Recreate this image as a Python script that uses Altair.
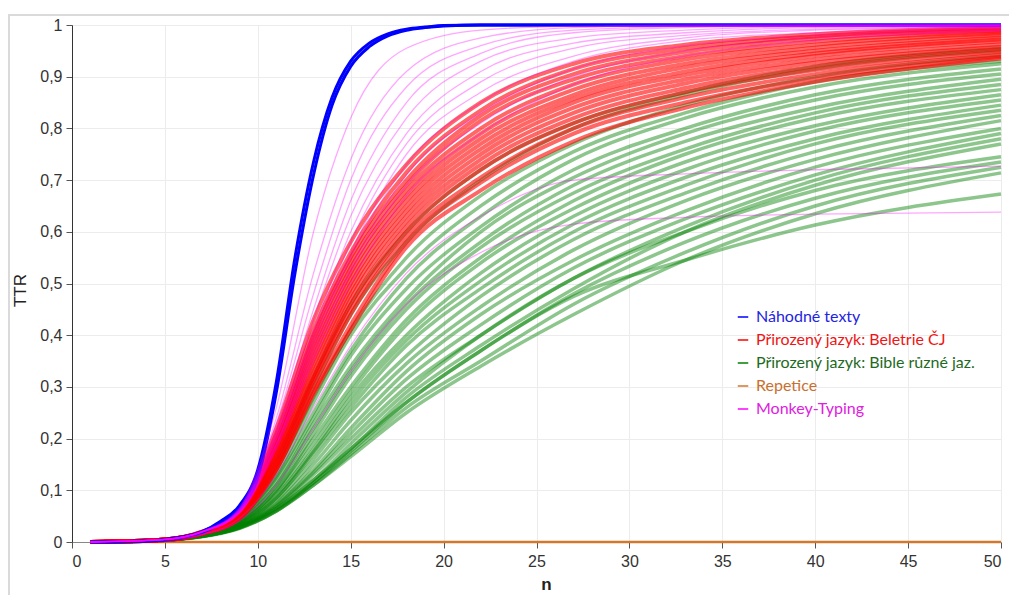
import altair as alt
import pandas as pd

# ---------------- data ----------------
N_GRID = [1, 5, 7, 9, 11, 13, 15, 18, 22, 27, 33, 40, 50]

BLUE_N = [1, 3, 5, 7, 8, 9, 10, 11, 12, 13, 14, 15, 16, 17, 18, 19, 20, 22, 25, 30, 50]
BLUE_CURVES = [
    [0, .001, .004, .018, .036, .062, .125, .29, .52, .71, .845, .92, .958, .979, .99, .995, .998, 1, 1, 1, 1],
    [0, .001, .005, .020, .040, .070, .140, .31, .55, .735, .86, .93, .965, .983, .992, .996, .999, 1, 1, 1, 1],
]

RED_CURVES = [
    [0, .005, .020, .060, .220, .430, .580, .730, .850, .925, .962, .982, .995],
    [0, .005, .020, .058, .210, .410, .560, .715, .835, .915, .955, .978, .993],
    [0, .005, .019, .057, .200, .400, .550, .700, .825, .905, .948, .974, .990],
    [0, .005, .019, .056, .195, .390, .540, .690, .815, .895, .940, .968, .987],
    [0, .005, .019, .055, .190, .380, .530, .680, .800, .885, .933, .962, .984],
    [0, .005, .018, .054, .185, .370, .520, .670, .790, .875, .925, .956, .980],
    [0, .005, .018, .053, .180, .360, .510, .660, .780, .865, .918, .950, .976],
    [0, .005, .018, .052, .175, .350, .500, .650, .770, .857, .910, .945, .972],
    [0, .005, .018, .051, .170, .340, .490, .640, .760, .850, .903, .940, .968],
    [0, .005, .017, .050, .165, .330, .480, .630, .750, .840, .895, .933, .963],
    [0, .004, .017, .049, .160, .320, .470, .620, .740, .830, .887, .927, .958],
    [0, .004, .017, .048, .155, .315, .460, .610, .730, .820, .878, .920, .953],
    [0, .004, .017, .047, .150, .310, .450, .600, .720, .810, .870, .913, .948],
    [0, .004, .016, .046, .145, .300, .440, .590, .705, .800, .860, .905, .943],
    [0, .004, .016, .045, .140, .290, .420, .580, .695, .790, .850, .897, .938],
    [0, .004, .016, .045, .140, .285, .410, .570, .680, .775, .840, .890, .935],
]

GREEN_CURVES = [
    [0, .005, .018, .055, .160, .320, .460, .600, .720, .810, .870, .920, .955],
    [0, .005, .017, .050, .150, .300, .440, .580, .700, .800, .865, .915, .950],
    [0, .005, .017, .048, .140, .280, .410, .550, .670, .770, .845, .900, .940],
    [0, .005, .016, .046, .130, .270, .400, .530, .650, .755, .830, .890, .930],
    [0, .005, .016, .044, .125, .250, .370, .510, .630, .740, .820, .880, .925],
    [0, .005, .015, .042, .120, .240, .360, .490, .610, .720, .800, .865, .915],
    [0, .005, .015, .040, .110, .230, .340, .470, .600, .705, .790, .855, .905],
    [0, .004, .015, .040, .110, .220, .330, .460, .580, .690, .775, .840, .895],
    [0, .004, .014, .038, .100, .210, .320, .450, .570, .675, .760, .830, .885],
    [0, .004, .014, .037, .100, .200, .300, .430, .550, .660, .750, .820, .875],
    [0, .004, .014, .036, .095, .190, .290, .420, .540, .645, .735, .805, .865],
    [0, .004, .013, .035, .090, .180, .280, .400, .520, .630, .720, .795, .855],
    [0, .004, .013, .034, .085, .175, .270, .390, .505, .615, .705, .780, .845],
    [0, .004, .013, .033, .085, .170, .260, .380, .490, .600, .690, .770, .835],
    [0, .004, .012, .032, .080, .160, .250, .360, .475, .585, .675, .755, .825],
    [0, .004, .012, .031, .075, .150, .235, .345, .455, .565, .660, .740, .815],
    [0, .004, .012, .030, .072, .140, .220, .330, .440, .545, .640, .725, .800],
    [0, .004, .012, .030, .070, .135, .210, .315, .420, .530, .625, .710, .790],
    [0, .004, .011, .029, .068, .130, .200, .300, .400, .510, .610, .700, .780],
    [0, .004, .011, .028, .065, .120, .180, .280, .380, .490, .600, .690, .770],
    [0, .004, .011, .028, .065, .120, .190, .290, .400, .510, .600, .680, .745],
    [0, .004, .011, .028, .062, .115, .175, .270, .370, .480, .580, .665, .735],
    [0, .004, .011, .027, .060, .110, .170, .260, .350, .460, .560, .650, .725],
    [0, .004, .011, .027, .060, .110, .165, .250, .340, .440, .545, .635, .714],
    [0, .003, .010, .026, .060, .115, .180, .270, .370, .475, .545, .613, .673],
]

MAGENTA_CURVES = [
    [0, .005, .020, .065, .260, .600, .820, .955, .990, .998, 1.00, 1.00, 1.00],
    [0, .005, .020, .063, .240, .520, .740, .910, .975, .995, .999, 1.00, 1.00],
    [0, .005, .020, .062, .230, .480, .700, .880, .960, .990, .997, .999, 1.00],
    [0, .005, .020, .060, .220, .450, .660, .850, .945, .985, .995, .998, 1.00],
    [0, .005, .020, .060, .210, .430, .630, .820, .930, .975, .990, .997, .999],
    [0, .005, .020, .060, .210, .410, .600, .790, .910, .965, .985, .995, .998],
    [0, .005, .020, .058, .200, .400, .580, .770, .890, .955, .980, .992, .997],
    [0, .005, .020, .058, .200, .390, .560, .750, .870, .940, .975, .990, .996],
    [0, .005, .019, .057, .190, .380, .550, .730, .850, .930, .970, .985, .995],
    [0, .005, .019, .056, .190, .370, .530, .710, .830, .915, .960, .980, .993],
    [0, .005, .019, .056, .185, .360, .520, .690, .810, .900, .950, .975, .990],
    [0, .005, .019, .055, .180, .350, .500, .670, .790, .885, .940, .970, .988],
    [0, .004, .015, .045, .130, .260, .380, .520, .630, .700, .712, .720, .727],
    [0, .004, .014, .040, .110, .220, .330, .460, .560, .615, .628, .634, .638],
]

ORANGE_N = [1, 50]
ORANGE_CURVES = [[0, 0]]

SERIES = [
    "Náhodné texty",
    "Přirozený jazyk: Beletrie ČJ",
    "Přirozený jazyk: Bible různé jaz.",
    "Repetice",
    "Monkey-Typing",
]
LINE_COLORS = ["#0000ff", "#ff0000", "#008000", "#d2772c", "#ff00ff"]
LABEL_COLORS = ["#2424e0", "#ee1515", "#1e6a1e", "#c8702f", "#e020e0"]

X_TICKS = [0, 5, 10, 15, 20, 25, 30, 35, 40, 45, 50]
Y_TICKS = [0, 0.1, 0.2, 0.3, 0.4, 0.5, 0.6, 0.7, 0.8, 0.9, 1]


# ---------------- build tables ----------------
def table(series, grid, curves):
    rows = []
    for ci, vals in enumerate(curves):
        for n, v in zip(grid, vals):
            rows.append({"series": series, "cid": f"{series}-{ci}", "n": n, "ttr": v})
    return pd.DataFrame(rows)


df_blue = table(SERIES[0], BLUE_N, BLUE_CURVES)
df_red = table(SERIES[1], N_GRID, RED_CURVES)
df_green = table(SERIES[2], N_GRID, GREEN_CURVES)
df_orange = table(SERIES[3], ORANGE_N, ORANGE_CURVES)
df_mag = table(SERIES[4], N_GRID, MAGENTA_CURVES)

label_expr = " : ".join(
    f"datum.value == '{s}' ? '{c}'" for s, c in zip(SERIES[:-1], LABEL_COLORS[:-1])
) + f" : '{LABEL_COLORS[-1]}'"

color_enc = alt.Color(
    "series:N",
    scale=alt.Scale(domain=SERIES, range=LINE_COLORS),
    legend=alt.Legend(
        title=None,
        orient="none",
        legendX=663,
        legendY=284,
        labelFont="Lato",
        labelFontSize=16,
        labelLimit=0,
        labelColor={"expr": label_expr},
        symbolType="stroke",
        symbolStrokeWidth=1.5,
        symbolSize=110,
        symbolOpacity=1,
        rowPadding=7,
        labelOffset=5,
    ),
)

x_enc = alt.X(
    "n:Q",
    scale=alt.Scale(domain=[0, 50], nice=False),
    axis=alt.Axis(
        values=X_TICKS,
        title="n",
        titleFont="Liberation Sans",
        titleFontSize=17,
        titleFontWeight="bold",
        titleColor="#222",
        titleX=474,
        titleY=47,
        titleBaseline="alphabetic",
        labelFont="Liberation Sans",
        labelFontSize=16,
        labelColor="#333",
        labelPadding=5,
        tickSize=6,
        tickColor="#555",
        domainColor="#888",
        gridColor="#ececec",
    ),
)

y_enc = alt.Y(
    "ttr:Q",
    scale=alt.Scale(domain=[0, 1], nice=False),
    axis=alt.Axis(
        values=Y_TICKS,
        labelExpr="replace(format(datum.value, '.1~f'), '.', ',')",
        title="TTR",
        titleFont="Liberation Sans",
        titleFontSize=17,
        titleFontWeight="normal",
        titleColor="#222",
        titleX=-47,
        titleY=265,
        titleAngle=-90,
        titleBaseline="alphabetic",
        labelFont="Liberation Sans",
        labelFontSize=16,
        labelColor="#333",
        labelPadding=4,
        tickSize=6,
        tickColor="#555",
        domainColor="#333",
        gridColor="#ececec",
    ),
)


def lines(df, width, opacity):
    return alt.Chart(df).mark_line(
        strokeWidth=width, opacity=opacity, interpolate="monotone"
    ).encode(x=x_enc, y=y_enc, color=color_enc, detail="cid:N")


frame_df = pd.DataFrame({"k": [0]})
frame_top = alt.Chart(frame_df).mark_rule(color="#dadada", strokeWidth=2).encode(
    x=alt.value(-64), x2=alt.value(940), y=alt.value(-10)
)
frame_left = alt.Chart(frame_df).mark_rule(color="#dadada", strokeWidth=2).encode(
    x=alt.value(-63), y=alt.value(-10), y2=alt.value(580)
)

chart = alt.layer(
    frame_top,
    frame_left,
    lines(df_orange, 2.5, 1.0),
    lines(df_green, 3.5, 0.45),
    lines(df_red, 4, 0.6),
    lines(df_blue, 3, 1.0),
    lines(df_mag, 1.3, 0.35),
).properties(
    width=929,
    height=517,
    autosize=alt.AutoSizeParams(type="none"),
    padding={"left": 64, "top": 17, "right": 8, "bottom": 53},
).configure_view(stroke=None).configure(background="white")

chart.save("out.html", embed_options={"renderer": "svg", "actions": False})
